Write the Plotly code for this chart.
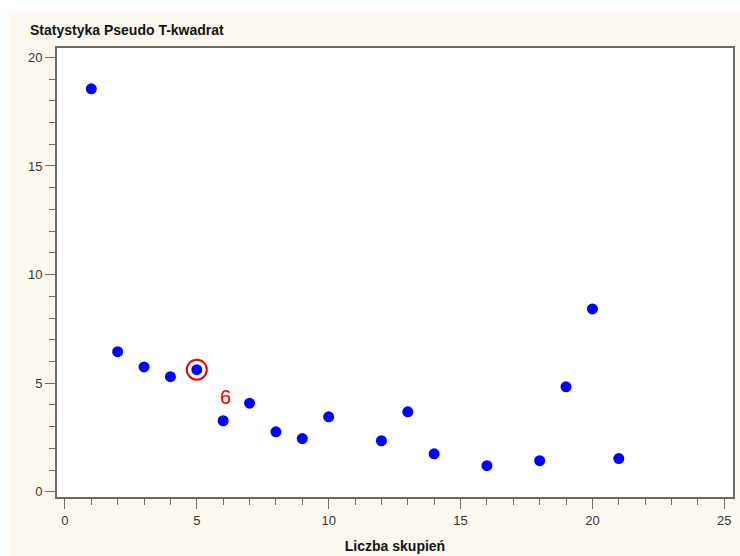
import plotly.graph_objects as go

# Data
clusters = [1, 2, 3, 4, 5, 6, 7, 8, 9, 10, 12, 13, 14, 16, 18, 19, 20, 21]
pseudo_t2 = [18.55, 6.45, 5.75, 5.3, 5.62, 3.27, 4.08, 2.76, 2.45, 3.45,
             2.35, 3.68, 1.75, 1.2, 1.43, 4.83, 8.42, 1.53]
highlight_x = [5]
highlight_y = [5.62]
highlight_label = "6"
x_ticks = [0, 5, 10, 15, 20, 25]
y_ticks = [0, 5, 10, 15, 20]

W, H = 740, 556
ML, MR, MT, MB = 57, 7, 48, 59
pw, ph = W - ML - MR, H - MT - MB

axis_col = "#6f6b63"
tick_font = dict(family="Liberation Sans, Arial", size=13, color="#333333")

fig = go.Figure()
fig.add_trace(go.Scatter(
    x=clusters, y=pseudo_t2, mode="markers",
    marker=dict(color="#0000FF", size=11, line=dict(width=0)),
    hoverinfo="x+y", showlegend=False))
fig.add_trace(go.Scatter(
    x=highlight_x, y=highlight_y, mode="markers",
    marker=dict(symbol="circle-open", color="#EE0000", size=20,
                line=dict(width=2, color="#EE0000")),
    showlegend=False, hoverinfo="skip"))

fig.add_annotation(x=highlight_x[0] + 1.07, y=highlight_y[0] - 1.27,
                   text=highlight_label, showarrow=False,
                   font=dict(family="Liberation Sans, Arial", size=20, color="#EE0000"))

# Title
fig.add_annotation(xref="paper", yref="paper",
                   x=(28 - ML) / pw, y=(H - MB - 30) / ph,
                   xanchor="left", yanchor="middle", showarrow=False,
                   text="<b>Statystyka Pseudo T-kwadrat</b>",
                   font=dict(family="Liberation Sans, Arial", size=14, color="#111111"))

# Background: white strip at top and left, beige rest
fig.add_shape(type="rect", xref="paper", yref="paper", layer="below",
              x0=(9 - ML) / pw, x1=(W + 5 - ML) / pw,
              y0=(H - MB - H - 5) / ph, y1=(H - MB - 11) / ph,
              fillcolor="#FDF9F1", line=dict(width=0))
fig.add_shape(type="rect", xref="paper", yref="paper", layer="below",
              x0=0, x1=1, y0=0, y1=1,
              fillcolor="#FFFFFF", line=dict(width=0))

fig.update_layout(
    width=W, height=H,
    margin=dict(l=ML, r=MR, t=MT, b=MB, pad=0, autoexpand=False),
    paper_bgcolor="#FFFFFF",
    plot_bgcolor="#FFFFFF",
    xaxis=dict(range=[-0.30, 25.33], tickvals=x_ticks, ticks="outside",
               automargin=False,
               ticklen=10, tickwidth=1, tickcolor=axis_col,
               minor=dict(dtick=1, tick0=0, ticks="outside", ticklen=6,
                          tickcolor=axis_col, showgrid=False),
               showline=True, linecolor=axis_col, linewidth=2, mirror=True,
               showgrid=False, zeroline=False, tickfont=tick_font,
               title=dict(text="<b>Liczba skupień</b>", standoff=15,
                          font=dict(family="Liberation Sans, Arial", size=14, color="#111111"))),
    yaxis=dict(range=[-0.24, 20.43], tickvals=y_ticks, ticks="outside",
               automargin=False,
               ticklen=10, tickwidth=1, tickcolor=axis_col,
               minor=dict(dtick=1, tick0=0, ticks="outside", ticklen=6,
                          tickcolor=axis_col, showgrid=False),
               showline=True, linecolor=axis_col, linewidth=2, mirror=True,
               showgrid=False, zeroline=False, tickfont=tick_font),
)

fig.write_html("out.html")
